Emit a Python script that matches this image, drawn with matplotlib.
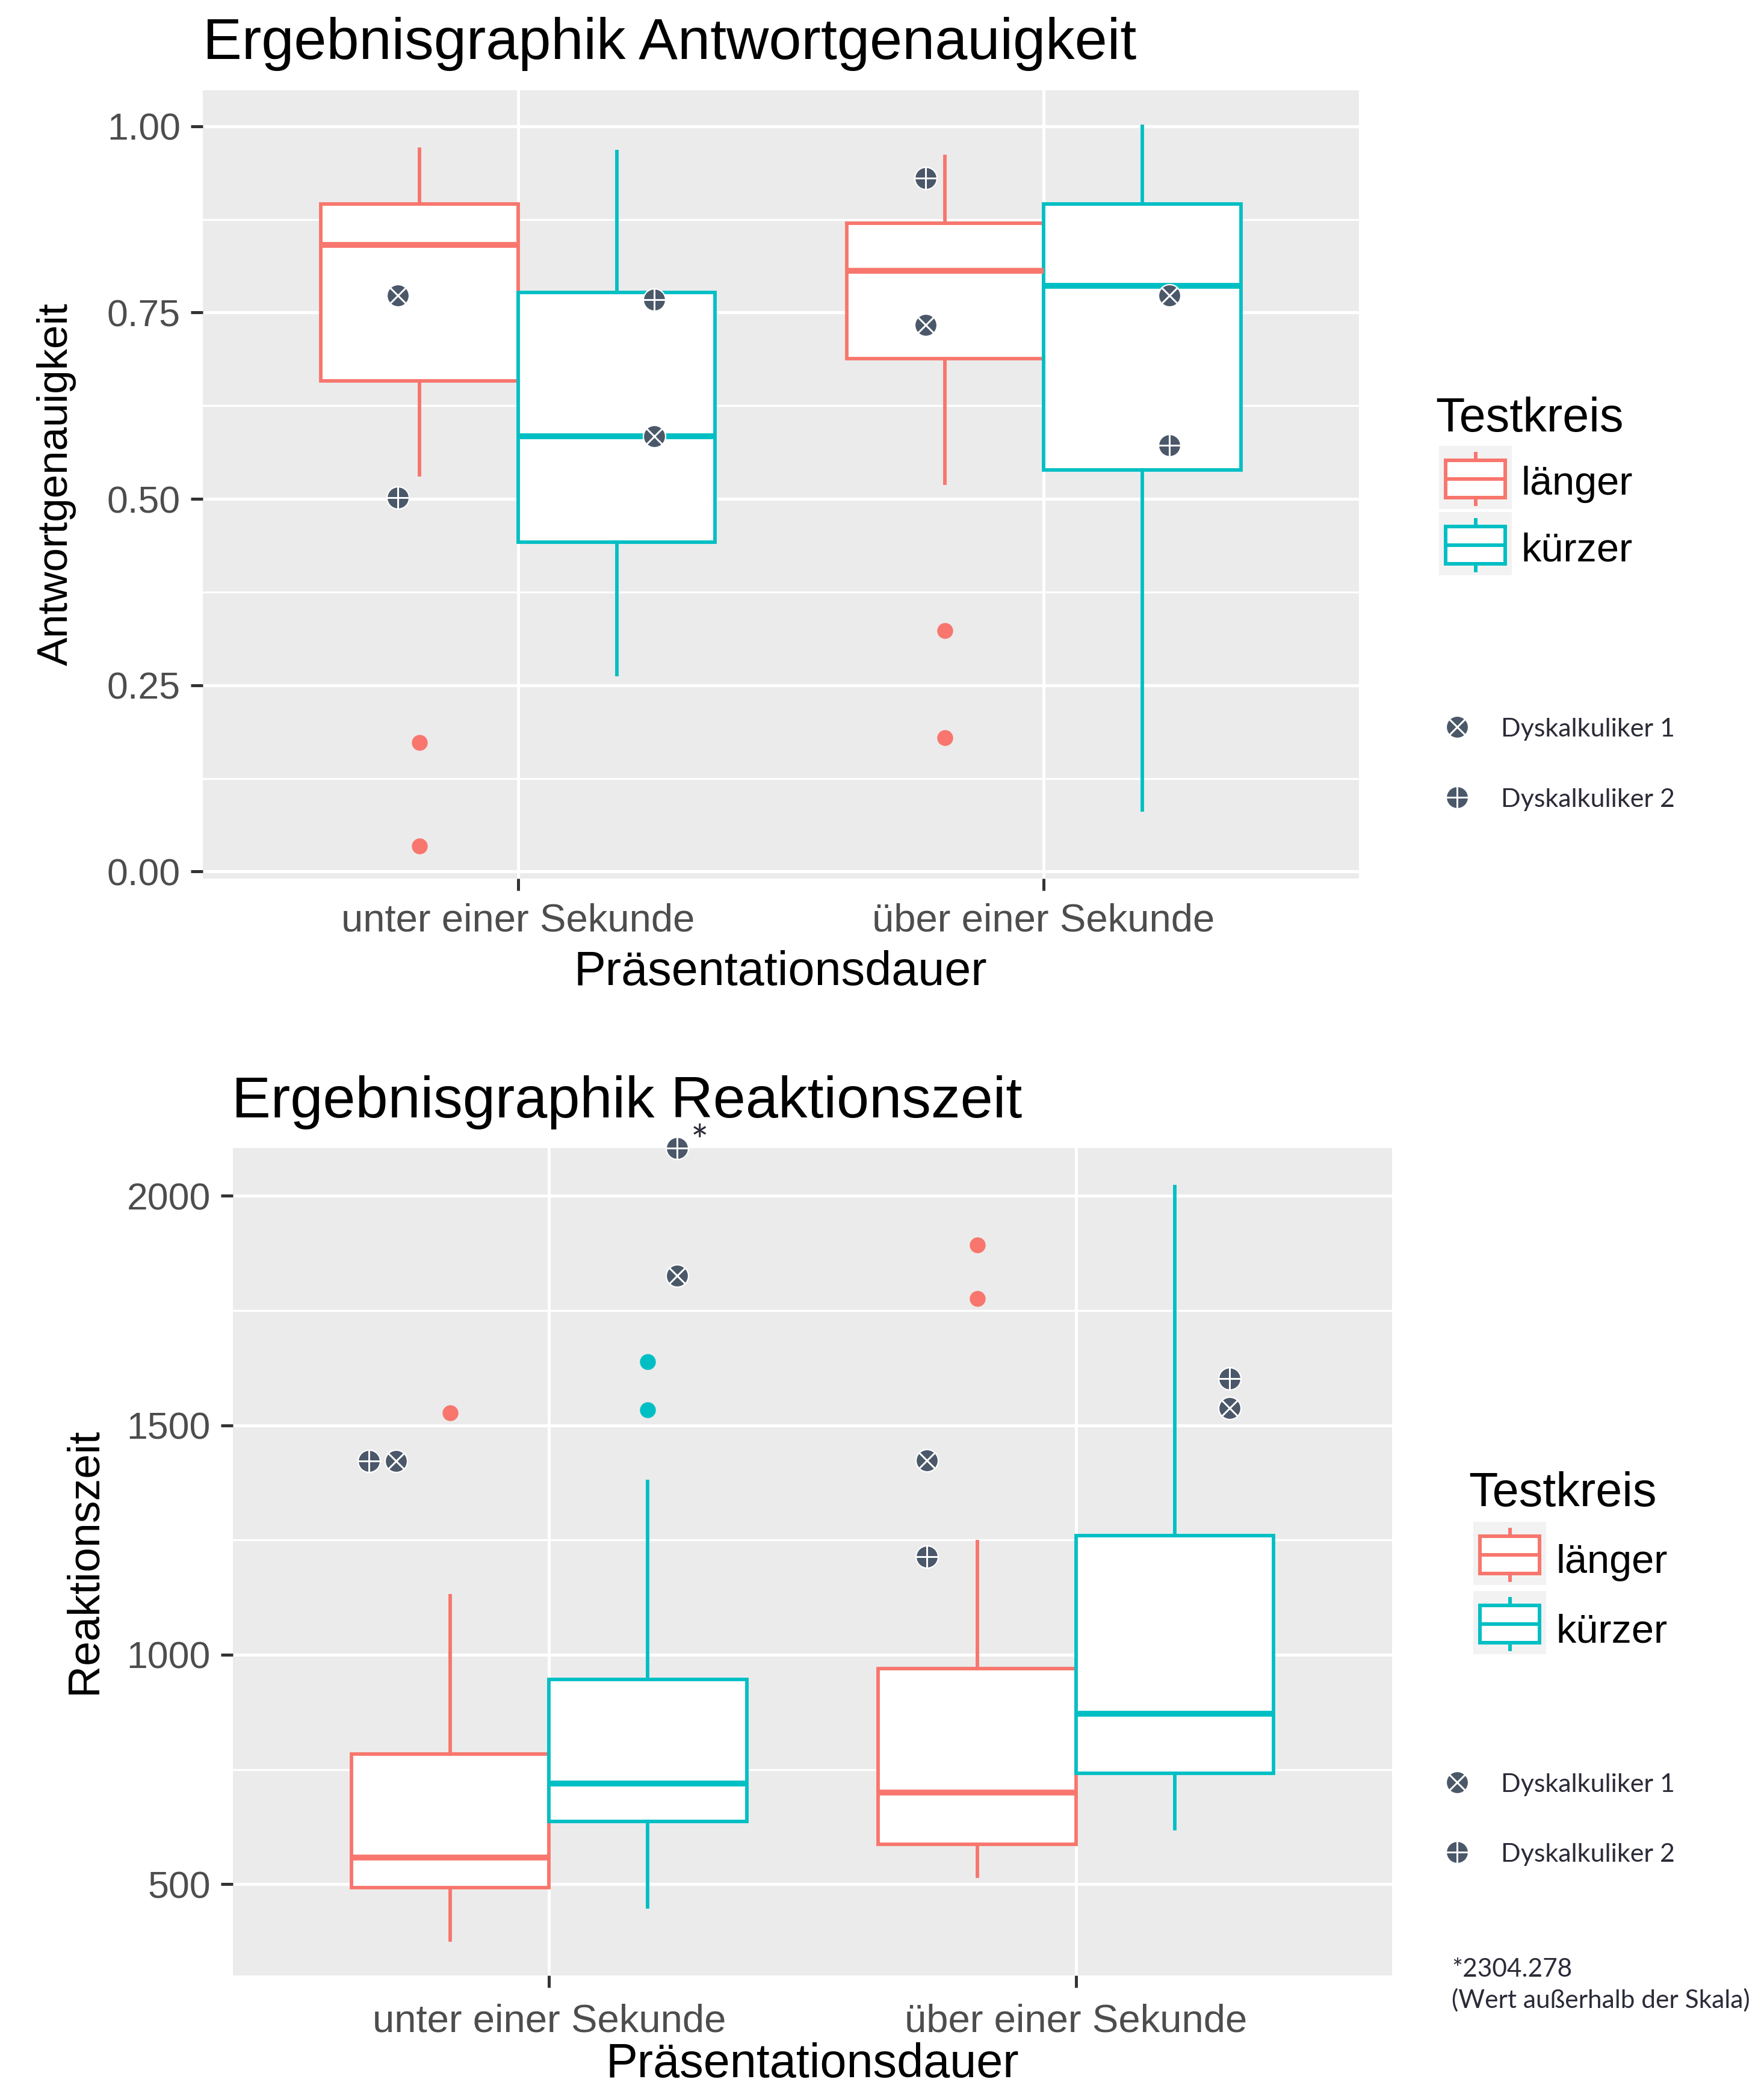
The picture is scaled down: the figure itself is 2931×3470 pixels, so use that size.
import matplotlib
matplotlib.use("Agg")
import matplotlib.pyplot as plt
from matplotlib.patches import Rectangle

# ---------------- data ----------------
categories = ["unter einer Sekunde", "über einer Sekunde"]
groups = ["länger", "kürzer"]
# order of boxes: unter/länger, unter/kürzer, über/länger, über/kürzer

acc_whislo = [0.532, 0.264, 0.521, 0.083]
acc_q1 = [0.658, 0.442, 0.688, 0.539]
acc_med = [0.841, 0.584, 0.806, 0.786]
acc_q3 = [0.896, 0.777, 0.870, 0.896]
acc_whishi = [0.969, 0.966, 0.959, 1.000]
acc_outliers = [[0.173, 0.034], [], [0.323, 0.180], []]
acc_dysk1 = [0.773, 0.584, 0.733, 0.773]
acc_dysk2 = [0.502, 0.767, 0.930, 0.572]

rt_whislo = [379, 451, 517, 621]
rt_q1 = [493, 637, 587, 742]
rt_med = [558, 719, 699, 871]
rt_q3 = [783, 946, 970, 1259]
rt_whishi = [1129, 1378, 1247, 2020]
rt_outliers = [[1527], [1639, 1534], [1893, 1776], []]
rt_dysk1 = [1422, 1826, 1423, 1538]
rt_dysk2 = [1422, 2304.278, 1214, 1602]

acc_yticks = [0.00, 0.25, 0.50, 0.75, 1.00]
acc_yticklabels = ["0.00", "0.25", "0.50", "0.75", "1.00"]
rt_yticks = [500, 1000, 1500, 2000]
rt_yticklabels = ["500", "1000", "1500", "2000"]

# manual horizontal jitter of the Dyskalkuliker points (relative to box centre)
acc_jit1 = [-0.042, 0.072, -0.037, 0.052]
acc_jit2 = [-0.042, 0.072, -0.037, 0.052]
rt_jit1 = [-0.103, 0.055, -0.096, 0.104]
rt_jit2 = [-0.154, 0.055, -0.096, 0.104]

# ---------------- style ----------------
W, H = 2931, 3470
RED = "#F8766D"
CYAN = "#00BFC4"
PANEL = "#EBEBEB"
DYSK = "#4B5869"
FONT = "Liberation Sans"
LEGFONT = "Lato"
PX = 0.72  # points per pixel at dpi 100

fig = plt.figure(figsize=(W / 100, H / 100), dpi=100)
plt.rcParams["font.family"] = [FONT, "DejaVu Sans"]


def dysk_marker(ax, x, y, kind, clip=True, z=6):
    d = 37 * PX
    ax.plot([x], [y], ls="none", marker="o", ms=d, mfc=DYSK, mec="white",
            mew=1.6, zorder=z, clip_on=clip)
    if kind == 1:
        ax.plot([x], [y], ls="none", marker="x", ms=d / 1.414 * 0.97,
                mec="white", mew=3 * PX, zorder=z + 1, clip_on=clip)
    else:
        ax.plot([x], [y], ls="none", marker="+", ms=d * 0.97,
                mec="white", mew=3 * PX, zorder=z + 1, clip_on=clip)


def panel(rect, whislo, q1, med, q3, whishi, outl, d1, d2, j1, j2,
          ylim, yticks, yticklabels, yminor, xpad):
    l, t, r, b = rect
    ax = fig.add_axes([l / W, 1 - b / H, (r - l) / W, (b - t) / H])
    ax.set_facecolor(PANEL)
    for s in ax.spines.values():
        s.set_visible(False)
    ax.set_xlim(0.4, 2.6)
    ax.set_ylim(*ylim)
    ax.set_axisbelow(True)
    ax.set_xticks([1, 2])
    ax.set_xticklabels(categories)
    ax.set_yticks(yticks)
    ax.set_yticklabels(yticklabels)
    ax.set_yticks(yminor, minor=True)
    ax.grid(True, which="major", color="white", lw=5 * PX)
    ax.grid(True, which="minor", axis="y", color="white", lw=3.2 * PX)
    ax.tick_params(which="major", length=20 * PX, width=5 * PX, color="#333333",
                   labelcolor="#4D4D4D")
    ax.tick_params(axis="x", pad=xpad, labelsize=47)
    ax.tick_params(axis="y", pad=17 * PX, labelsize=45)
    ax.tick_params(which="minor", length=0)

    lw = 4.2
    for k in range(4):
        cat = k // 2 + 1
        off = -0.1875 if k % 2 == 0 else 0.1875
        col = RED if k % 2 == 0 else CYAN
        pos = cat + off
        st = dict(med=med[k], q1=q1[k], q3=q3[k], whislo=whislo[k],
                  whishi=whishi[k], fliers=outl[k])
        ax.bxp([st], positions=[pos], widths=0.375, patch_artist=True,
               showcaps=False, showfliers=True,
               boxprops=dict(facecolor="white", edgecolor=col, lw=lw),
               whiskerprops=dict(color=col, lw=lw),
               medianprops=dict(color=col, lw=7),
               flierprops=dict(marker="o", mfc=col, mec=col, ms=18,
                               ls="none"),
               manage_ticks=False, zorder=3)
        ytop = ylim[1]
        y1 = d1[k]
        y2 = d2[k]
        dysk_marker(ax, pos + j1[k], min(y1, ytop), 1, clip=y1 <= ytop)
        dysk_marker(ax, pos + j2[k], min(y2, ytop), 2, clip=y2 <= ytop)
    return ax


ax1 = panel((337, 150, 2258, 1460), acc_whislo, acc_q1, acc_med, acc_q3,
            acc_whishi, acc_outliers, acc_dysk1, acc_dysk2, acc_jit1, acc_jit2,
            (-0.0093, 1.0482), acc_yticks, acc_yticklabels,
            [0.125, 0.375, 0.625, 0.875], 20 * PX)
ax2 = panel((387, 1908, 2313, 3283), rt_whislo, rt_q1, rt_med, rt_q3,
            rt_whishi, rt_outliers, rt_dysk1, rt_dysk2, rt_jit1, rt_jit2,
            (301, 2104), rt_yticks, rt_yticklabels, [750, 1250, 1750], 26 * PX)

# asterisk next to the clipped value
ax2.annotate("*", xy=(1 + 0.1875 + rt_jit2[1], 2104), xytext=(38 * PX, -12 * PX),
             textcoords="offset points", ha="center", va="baseline",
             fontsize=50, family=LEGFONT, color="#2B2B38", annotation_clip=False)

# ---------------- overlay for texts and legends (pixel coordinates) ----------------
ov = fig.add_axes([0, 0, 1, 1], zorder=10)
ov.set_xlim(0, W)
ov.set_ylim(H, 0)
ov.axis("off")
ov.patch.set_alpha(0)

ov.text(337, 98, "Ergebnisgraphik Antwortgenauigkeit", fontsize=70,
        va="baseline", ha="left", color="black")
ov.text(385, 1857, "Ergebnisgraphik Reaktionszeit", fontsize=70,
        va="baseline", ha="left", color="black")
ov.text(1297, 1637, "Präsentationsdauer", fontsize=57, ha="center",
        va="baseline")
ov.text(1350, 3452, "Präsentationsdauer", fontsize=57, ha="center",
        va="baseline", clip_on=False)
ov.text(112, 805, "Antwortgenauigkeit", fontsize=51, rotation=90,
        rotation_mode="anchor", ha="center", va="baseline")
ov.text(160, 2594, "Reaktionszeit", fontsize=53, rotation=90,
        rotation_mode="anchor", ha="center", va="baseline")


def key(x0, y0, col):
    ov.add_patch(Rectangle((x0, y0), 121, 105, facecolor="#F2F2F2",
                           edgecolor="none"))
    ov.add_patch(Rectangle((x0 + 11, y0 + 24), 99, 62, facecolor="white",
                           edgecolor=col, lw=4.3))
    ov.plot([x0 + 11, x0 + 110], [y0 + 55, y0 + 55], color=col, lw=4.3,
            solid_capstyle="butt")
    ov.plot([x0 + 60.5] * 2, [y0 + 10, y0 + 24], color=col, lw=4.3,
            solid_capstyle="butt")
    ov.plot([x0 + 60.5] * 2, [y0 + 86, y0 + 100], color=col, lw=4.3,
            solid_capstyle="butt")


def testkreis_legend(tx, ty, kx, ky1, ky2, lx, lb1, lb2):
    ov.text(tx, ty, "Testkreis", fontsize=57, va="baseline")
    key(kx, ky1, RED)
    key(kx, ky2, CYAN)
    ov.text(lx, lb1, groups[0], fontsize=48, va="baseline")
    ov.text(lx, lb2, groups[1], fontsize=48, va="baseline")


def dysk_legend(y1, y2):
    dysk_marker(ov, 2421, y1, 1, clip=False, z=20)
    dysk_marker(ov, 2421, y2, 2, clip=False, z=20)
    ov.text(2494, y1 + 16, "Dyskalkuliker 1", fontsize=31, family=LEGFONT,
            color="#2B2B38", va="baseline")
    ov.text(2494, y2 + 16, "Dyskalkuliker 2", fontsize=31, family=LEGFONT,
            color="#2B2B38", va="baseline")


testkreis_legend(2385, 717, 2391, 741, 851, 2527, 822, 932)
dysk_legend(1208, 1325)
testkreis_legend(2440, 2503, 2448, 2529, 2644, 2586, 2614, 2729)
dysk_legend(2962, 3078)
ov.text(2412, 3285, "*2304.278", fontsize=30.5, family=LEGFONT,
        color="#2B2B38", va="baseline")
ov.text(2412, 3337, "(Wert außerhalb der Skala)", fontsize=30.5,
        family=LEGFONT, color="#2B2B38", va="baseline")

fig.savefig("out.png", dpi=100, facecolor="white")
